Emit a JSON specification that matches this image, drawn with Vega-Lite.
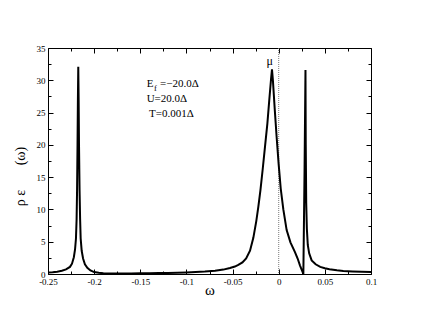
{
  "$schema": "https://vega.github.io/schema/vega-lite/v6.json",
  "width": 323,
  "height": 226,
  "autosize": {"type": "none"},
  "padding": {"left": 48, "top": 48, "right": 59, "bottom": 58},
  "config": {
    "view": {"stroke": null},
    "font": "Liberation Serif",
    "axis": {
      "grid": false,
      "domainColor": "black",
      "domainWidth": 1,
      "tickColor": "black",
      "tickWidth": 1,
      "labelColor": "black",
      "labelFont": "Liberation Serif",
      "labelFontSize": 9,
      "labelFlush": false,
      "labelOverlap": false,
      "titleFont": "Liberation Serif",
      "titleFontWeight": "normal",
      "titleColor": "black"
    }
  },
  "datasets": {
    "curve": [
      {"w": -0.25, "rho": 0.22}, {"w": -0.245, "rho": 0.28}, {"w": -0.24, "rho": 0.36},
      {"w": -0.235, "rho": 0.5}, {"w": -0.2305, "rho": 0.72}, {"w": -0.2262, "rho": 1.1},
      {"w": -0.224, "rho": 1.6}, {"w": -0.222, "rho": 2.6}, {"w": -0.2207, "rho": 3.8},
      {"w": -0.2197, "rho": 5.5}, {"w": -0.219, "rho": 8.5}, {"w": -0.2185, "rho": 13},
      {"w": -0.218, "rho": 20}, {"w": -0.2176, "rho": 27}, {"w": -0.2172, "rho": 32.1},
      {"w": -0.2168, "rho": 27}, {"w": -0.2164, "rho": 20}, {"w": -0.2158, "rho": 13},
      {"w": -0.2152, "rho": 8.5}, {"w": -0.2146, "rho": 5.5}, {"w": -0.2135, "rho": 3.6},
      {"w": -0.212, "rho": 2.4}, {"w": -0.21, "rho": 1.5}, {"w": -0.2074, "rho": 0.95},
      {"w": -0.204, "rho": 0.55}, {"w": -0.2, "rho": 0.3}, {"w": -0.195, "rho": 0.18},
      {"w": -0.19, "rho": 0.12}, {"w": -0.18, "rho": 0.08}, {"w": -0.17, "rho": 0.07},
      {"w": -0.16, "rho": 0.08}, {"w": -0.15, "rho": 0.1}, {"w": -0.14, "rho": 0.12},
      {"w": -0.13, "rho": 0.14}, {"w": -0.12, "rho": 0.17}, {"w": -0.11, "rho": 0.21},
      {"w": -0.1, "rho": 0.25}, {"w": -0.09, "rho": 0.3}, {"w": -0.08, "rho": 0.37},
      {"w": -0.069, "rho": 0.5}, {"w": -0.06, "rho": 0.68}, {"w": -0.0528, "rho": 0.93},
      {"w": -0.0475, "rho": 1.15}, {"w": -0.0438, "rho": 1.4}, {"w": -0.0393, "rho": 1.8},
      {"w": -0.0353, "rho": 2.4}, {"w": -0.0311, "rho": 3.6}, {"w": -0.0275, "rho": 5.6},
      {"w": -0.0243, "rho": 8.2}, {"w": -0.0221, "rho": 10.4}, {"w": -0.0198, "rho": 13.0},
      {"w": -0.0173, "rho": 16.3}, {"w": -0.0148, "rho": 19.8}, {"w": -0.0123, "rho": 23.3},
      {"w": -0.0103, "rho": 26.8}, {"w": -0.0083, "rho": 30.2}, {"w": -0.0073, "rho": 31.7},
      {"w": -0.0063, "rho": 30.0}, {"w": -0.0043, "rho": 25.5}, {"w": -0.0023, "rho": 21.3},
      {"w": 0.0, "rho": 16.9}, {"w": 0.0022, "rho": 13.2}, {"w": 0.005, "rho": 10.0},
      {"w": 0.0086, "rho": 6.8}, {"w": 0.0127, "rho": 4.9}, {"w": 0.0176, "rho": 3.4},
      {"w": 0.0205, "rho": 2.4}, {"w": 0.023, "rho": 1.35}, {"w": 0.0267, "rho": 0.0},
      {"w": 0.028, "rho": 16}, {"w": 0.029, "rho": 31.6},
      {"w": 0.0293, "rho": 20}, {"w": 0.0298, "rho": 11}, {"w": 0.0305, "rho": 7},
      {"w": 0.0315, "rho": 4.5}, {"w": 0.033, "rho": 3.2}, {"w": 0.0357, "rho": 2.1},
      {"w": 0.04, "rho": 1.5}, {"w": 0.045, "rho": 1.1}, {"w": 0.05, "rho": 0.9},
      {"w": 0.055, "rho": 0.75}, {"w": 0.063, "rho": 0.57}, {"w": 0.07, "rho": 0.48},
      {"w": 0.08, "rho": 0.4}, {"w": 0.09, "rho": 0.34}, {"w": 0.1, "rho": 0.3}
    ],
    "notes": [
      {"w": -0.1431, "rho": 28.9, "text": "E"},
      {"w": -0.1286, "rho": 28.9, "text": "=−20.0Δ"},
      {"w": -0.1431, "rho": 26.68, "text": "U=20.0Δ"},
      {"w": -0.1406, "rho": 24.36, "text": "T=0.001Δ"}
    ],
    "subs": [
      {"w": -0.1351, "rho": 28.3, "text": "f"}
    ],
    "mu": [
      {"w": -0.0098, "rho": 32.29, "text": "μ"}
    ],
    "zero": [
      {"w": 0}
    ]
  },
  "resolve": {"axis": {"x": "independent", "y": "independent"}},
  "layer": [
    {
      "data": {"name": "zero"},
      "mark": {"type": "rule", "color": "#7a7a7a", "strokeWidth": 1, "strokeDash": [1, 1]},
      "encoding": {
        "x": {"field": "w", "type": "quantitative", "scale": {"domain": [-0.25, 0.1], "nice": false, "zero": false}, "axis": null}
      }
    },
    {
      "data": {"name": "curve"},
      "mark": {"type": "line", "color": "black", "strokeWidth": 2},
      "encoding": {
        "x": {
          "field": "w", "type": "quantitative",
          "scale": {"domain": [-0.25, 0.1], "nice": false, "zero": false},
          "axis": {
            "orient": "bottom",
            "values": [-0.25, -0.2, -0.15, -0.1, -0.05, 0, 0.05, 0.1],
            "labelExpr": "toString(datum.value)",
            "tickSize": -5,
            "labelPadding": 8,
            "title": "ω",
            "titleFontSize": 15,
            "titleBaseline": "alphabetic",
            "titlePadding": 8
          }
        },
        "y": {
          "field": "rho", "type": "quantitative",
          "scale": {"domain": [0, 35], "nice": false, "zero": false},
          "axis": {
            "orient": "left",
            "values": [0, 5, 10, 15, 20, 25, 30, 35],
            "tickSize": -5,
            "labelPadding": 8,
            "title": "ρ\u00a0ε\u00a0\u00a0\u00a0\u00a0\u00a0\u00a0\u00a0(ω)",
            "titleFontSize": 14,
            "titlePadding": 9,
            "titleY": 128
          }
        }
      }
    },
    {
      "data": {"name": "notes"},
      "mark": {"type": "text", "align": "left", "baseline": "alphabetic", "fontSize": 11, "font": "Liberation Serif", "color": "black"},
      "encoding": {
        "x": {
          "field": "w", "type": "quantitative",
          "scale": {"domain": [-0.25, 0.1], "nice": false, "zero": false},
          "axis": {"orient": "top", "values": [-0.25, -0.2, -0.15, -0.1, -0.05, 0, 0.05, 0.1], "tickSize": -5, "labels": false, "title": null}
        },
        "y": {
          "field": "rho", "type": "quantitative",
          "scale": {"domain": [0, 35], "nice": false, "zero": false},
          "axis": {"orient": "right", "values": [0, 5, 10, 15, 20, 25, 30, 35], "tickSize": -5, "labels": false, "title": null}
        },
        "text": {"field": "text"}
      }
    },
    {
      "data": {"name": "subs"},
      "mark": {"type": "text", "align": "left", "baseline": "alphabetic", "fontSize": 8.5, "font": "Liberation Serif", "color": "black"},
      "encoding": {
        "x": {
          "field": "w", "type": "quantitative",
          "scale": {"domain": [-0.25, 0.1], "nice": false, "zero": false},
          "axis": {"orient": "bottom", "values": [-0.225, -0.175, -0.125, -0.075, -0.025, 0.025, 0.075], "tickSize": -3, "labels": false, "domain": false, "title": null}
        },
        "y": {
          "field": "rho", "type": "quantitative",
          "scale": {"domain": [0, 35], "nice": false, "zero": false},
          "axis": {"orient": "left", "values": [2.5, 7.5, 12.5, 17.5, 22.5, 27.5, 32.5], "tickSize": -3, "labels": false, "domain": false, "title": null}
        },
        "text": {"field": "text"}
      }
    },
    {
      "data": {"name": "mu"},
      "mark": {"type": "text", "align": "center", "baseline": "alphabetic", "fontSize": 12, "font": "Liberation Serif", "color": "black"},
      "encoding": {
        "x": {
          "field": "w", "type": "quantitative",
          "scale": {"domain": [-0.25, 0.1], "nice": false, "zero": false},
          "axis": {"orient": "top", "values": [-0.225, -0.175, -0.125, -0.075, -0.025, 0.025, 0.075], "tickSize": -3, "labels": false, "domain": false, "title": null}
        },
        "y": {
          "field": "rho", "type": "quantitative",
          "scale": {"domain": [0, 35], "nice": false, "zero": false},
          "axis": {"orient": "right", "values": [2.5, 7.5, 12.5, 17.5, 22.5, 27.5, 32.5], "tickSize": -3, "labels": false, "domain": false, "title": null}
        },
        "text": {"field": "text"}
      }
    }
  ]
}
